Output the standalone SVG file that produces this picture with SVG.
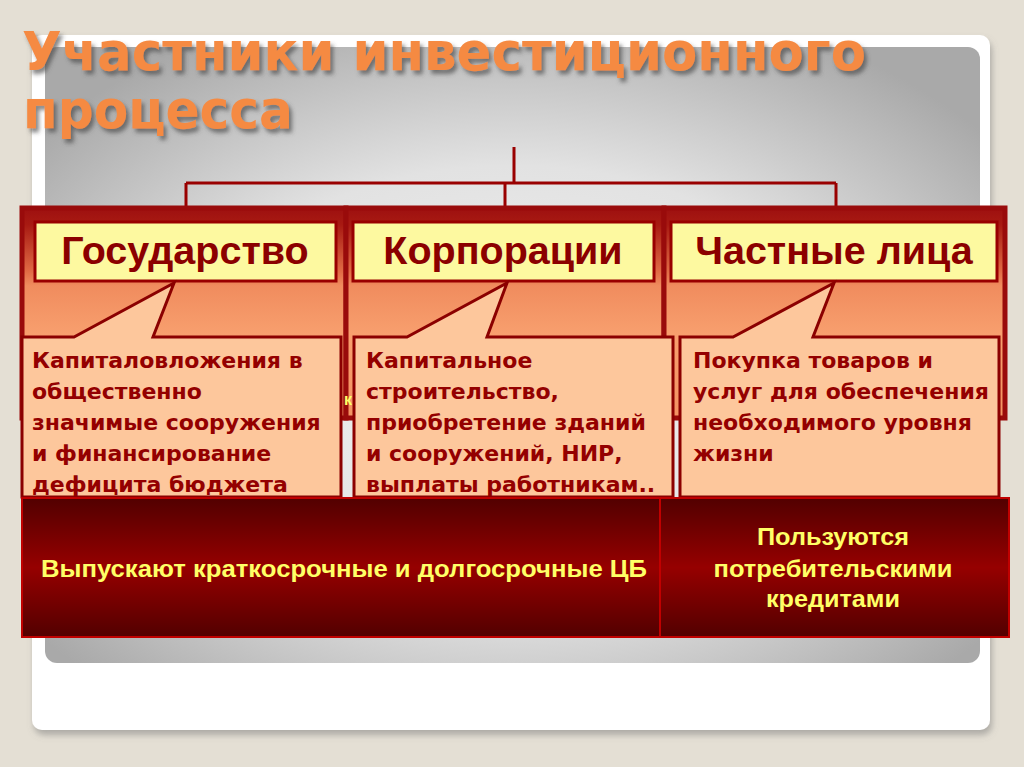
<svg xmlns="http://www.w3.org/2000/svg" width="1024" height="767" viewBox="0 0 1024 767">
<defs>
<radialGradient id="gray" cx="0.5" cy="0.55" r="0.65">
<stop offset="0" stop-color="#f2f2f2"/>
<stop offset="0.55" stop-color="#e2e2e2"/>
<stop offset="1" stop-color="#a9a9a9"/>
</radialGradient>
<linearGradient id="frame" x1="0" y1="0" x2="0" y2="1">
<stop offset="0" stop-color="#9e1010"/>
<stop offset="0.08" stop-color="#a81a12"/>
<stop offset="0.3" stop-color="#e06a44"/>
<stop offset="0.37" stop-color="#f08c5e"/>
<stop offset="0.6" stop-color="#f89f6e"/>
<stop offset="1" stop-color="#f39262"/>
</linearGradient>
<linearGradient id="bar" x1="0" y1="0" x2="0" y2="1">
<stop offset="0" stop-color="#520000"/>
<stop offset="0.5" stop-color="#960000"/>
<stop offset="1" stop-color="#520000"/>
</linearGradient>
<filter id="sh" x="-5%" y="-10%" width="110%" height="130%">
<feDropShadow dx="3" dy="4" stdDeviation="2" flood-color="#444" flood-opacity="0.65"/>
</filter>
<filter id="psh" x="-5%" y="-5%" width="110%" height="110%">
<feDropShadow dx="2" dy="5" stdDeviation="3" flood-color="#777" flood-opacity="0.5"/>
</filter>
</defs>
<style>
.title{font-family:"DejaVu Sans",Verdana,sans-serif;font-weight:bold;font-size:54px;fill:#f58a42}
.frame{fill:url(#frame);stroke:#990b0b;stroke-width:5}
.hbox{fill:#fdf9a0;stroke:#990000;stroke-width:3}
.htxt{font-family:"Liberation Sans",Arial,sans-serif;font-weight:bold;font-size:39.5px;fill:#8b0000;text-anchor:middle}
.call{fill:#fdc79c;stroke:#8b0000;stroke-width:3;stroke-linejoin:miter}
.ctxt{font-family:"DejaVu Sans",Verdana,sans-serif;font-weight:bold;font-size:22px;fill:#940000}
.cell{fill:url(#bar);stroke:#c00000;stroke-width:2}
.btxt{font-family:"Liberation Sans Narrow","Liberation Sans",Arial,sans-serif;font-weight:bold;font-size:23px;fill:#ffff66;text-anchor:middle}
.conn{stroke:#990000;stroke-width:3;fill:none}
</style>
<rect x="0" y="0" width="1024" height="767" fill="#e4dfd4"/>
<rect x="32" y="35" width="958" height="695" rx="10" fill="#ffffff" filter="url(#psh)"/>
<rect x="45" y="47" width="935" height="616" rx="12" fill="url(#gray)"/>
<g id="title" filter="url(#sh)">
<text class="title" x="22" y="70" textLength="844" lengthAdjust="spacingAndGlyphs">Участники инвестиционного</text>
<text class="title" x="23" y="128" textLength="270" lengthAdjust="spacingAndGlyphs">процесса</text>
</g>
<g id="connectors">
<path class="conn" d="M514 147 V183 M186 183 H836 M186 183 V209 M505 183 V209 M836 183 V209"/>
</g>
<g id="col1">
<rect class="frame" x="22" y="208" width="324" height="210"/>
</g>
<g id="col2">
<rect class="frame" x="346" y="208" width="318" height="210"/>
</g>
<g id="col3">
<rect class="frame" x="664" y="208" width="341" height="210"/>
</g>
<text x="344" y="405" font-family="Liberation Sans,Arial,sans-serif" font-weight="bold" font-size="16" fill="#ffff66">к</text>
<g id="gosudarstvo">
<rect class="hbox" x="35" y="222" width="301" height="59"/>
<text class="htxt" x="185" y="264">Государство</text>
</g>
<g id="korporacii">
<rect class="hbox" x="353" y="222" width="301" height="59"/>
<text class="htxt" x="503" y="264">Корпорации</text>
</g>
<g id="chastnye">
<rect class="hbox" x="671" y="222" width="326" height="59"/>
<text class="htxt" x="834" y="264">Частные лица</text>
</g>
<g id="callout1">
<path class="call" d="M22 337 H74 L174 283 L153 337 H341 V497 H22 Z"/>
<text class="ctxt" x="32"><tspan x="32" y="368">Капиталовложения в</tspan><tspan x="32" y="399">общественно</tspan><tspan x="32" y="430">значимые сооружения</tspan><tspan x="32" y="461">и финансирование</tspan><tspan x="32" y="492">дефицита бюджета</tspan></text>
</g>
<g id="callout2">
<path class="call" d="M354 337 H407 L507 283 L487 337 H673 V497 H354 Z"/>
<text class="ctxt" x="366"><tspan x="366" y="368">Капитальное</tspan><tspan x="366" y="399">строительство,</tspan><tspan x="366" y="430">приобретение зданий</tspan><tspan x="366" y="461">и сооружений, НИР,</tspan><tspan x="366" y="492">выплаты работникам..</tspan></text>
</g>
<g id="callout3">
<path class="call" d="M680 337 H733 L834 283 L813 337 H999 V497 H680 Z"/>
<text class="ctxt" x="693"><tspan x="693" y="368">Покупка товаров и</tspan><tspan x="693" y="399">услуг для обеспечения</tspan><tspan x="693" y="430">необходимого уровня</tspan><tspan x="693" y="461">жизни</tspan></text>
</g>
<g id="cell1">
<rect class="cell" x="22" y="498" width="638" height="139"/>
<text class="btxt" x="344" y="577" textLength="606" lengthAdjust="spacingAndGlyphs">Выпускают краткосрочные и долгосрочные ЦБ</text>
</g>
<g id="cell2">
<rect class="cell" x="660" y="498" width="349" height="139"/>
<text class="btxt" x="833" y="545" textLength="152" lengthAdjust="spacingAndGlyphs">Пользуются</text>
<text class="btxt" x="833" y="577" textLength="239" lengthAdjust="spacingAndGlyphs">потребительскими</text>
<text class="btxt" x="833" y="607" textLength="134" lengthAdjust="spacingAndGlyphs">кредитами</text>
</g>
</svg>
